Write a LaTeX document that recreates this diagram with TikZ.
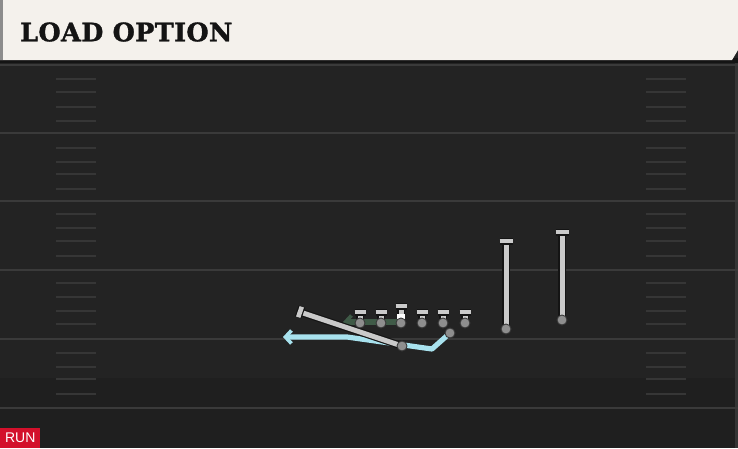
\documentclass[tikz,border=0pt]{standalone}
\usepackage{fontspec}
\setmainfont{DejaVu Serif}
\newfontfamily\titlefont[FakeBold=1.4, LetterSpace=1.5]{DejaVu Serif Bold}
\newfontfamily\runfont{Liberation Sans}
\usetikzlibrary{arrows.meta,calc}
\definecolor{field}{HTML}{232323}
\definecolor{fieldlow}{HTML}{1F1F1F}
\definecolor{cream}{HTML}{F4F1EC}
\definecolor{yard}{HTML}{3A3A3A}
\definecolor{hash}{HTML}{363636}
\definecolor{routegray}{HTML}{CACACA}
\definecolor{dotgray}{HTML}{8E8E8E}
\definecolor{outline}{HTML}{141414}
\definecolor{runblue}{HTML}{A8E2EE}
\definecolor{blockgreen}{HTML}{3F5A47}
\definecolor{runred}{HTML}{D3102B}
\tikzset{
  route/.style={draw=outline, line width=1.2pt, double=routegray, double distance=5pt},
  tbar/.style={draw=outline, line width=1.2pt, double=routegray, double distance=4.6pt},
  player/.style={circle, fill=dotgray, draw=outline!70!dotgray, line width=0.9pt, minimum size=10pt, inner sep=0pt},
  blueroute/.style={draw=runblue, line width=5.2pt, line join=round, -{Straight Barb[length=6pt,width=13pt,line width=3.6pt]}},
  greenroute/.style={draw=blockgreen, line width=5.2pt, -{Straight Barb[length=6pt,width=13pt,line width=3.6pt]}},
  yardline/.style={draw=yard, line width=1.6pt},
  hashmark/.style={draw=hash, line width=1.6pt},
}
\begin{document}
\begin{tikzpicture}[x=1pt,y=-1pt]
\useasboundingbox (0,0) rectangle (738,448);
% field
\fill[field] (0,0) rectangle (738,448);
\fill[fieldlow] (0,378) rectangle (738,448);
\fill[field!92!white] (735,60) rectangle (738,448);
% yard lines
\foreach \yy in {65,133,201,270,339,408} \draw[yardline] (0,\yy) -- (738,\yy);
% hash marks
\foreach \yy in {79,92,107,121,148,162,174,189,214,228,241,256,283,297,311,324,353,367,379,394} {
  \draw[hashmark] (56,\yy) -- (96,\yy);
  \draw[hashmark] (646,\yy) -- (686,\yy);
}
% header
\fill[outline] (0,58) rectangle (738,63);
\fill[cream] (0,0) -- (738,0) -- (738,50) -- (732,60) -- (0,60) -- cycle;
\fill[black!45] (0,0) rectangle (3,60);
\node[anchor=west, inner sep=0pt, text=outline, font=\titlefont\fontsize{25.5}{25.5}\selectfont] (title) at (20,32) {LOAD OPTION};
% RUN tag
\node[anchor=south west, fill=runred, text=white, inner sep=0pt, minimum width=40pt, minimum height=20pt, font=\runfont\fontsize{14}{14}\selectfont] (run) at (0,448) {RUN};

% coordinates
\coordinate (c) at (401,322);
\coordinate (greenend) at (343,322);
\coordinate (qb) at (402,346);
\coordinate (back) at (450,333);
\coordinate (b1) at (432,349);
\coordinate (b2) at (347,337);
\coordinate (blueend) at (283,337);
\coordinate (pitchend) at (300,312);
\coordinate (pa) at (301.8,306.8);
\coordinate (pb) at (298.2,317.2);

% block arrow
\draw[greenroute] (c) -- (greenend);
% run path
\draw[blueroute] (back) -- (b1) -- (b2) -- (blueend);
% pitch/ride path
\draw[route] (qb) -- (pitchend);
\draw[tbar] (pa) -- (pb);

% linemen
\foreach \n/\xx/\tp in {l1/360/312, l2/381/312, l3/401/306, l4/422/312, l5/443/312, l6/465/312} {
  \coordinate (\n) at (\xx,323);
  \coordinate (\n t) at (\xx,\tp);
  \draw[route] (\n) -- (\n t);
  \draw[tbar] ($(\n t)+(-5.5,0)$) -- ($(\n t)+(5.5,0)$);
}
\fill[white] (397,314) rectangle (405,323);
% receivers
\coordinate (w1) at (506,329);
\coordinate (w1t) at (506,241);
\coordinate (w2) at (562,320);
\coordinate (w2t) at (562,232);
\draw[route] (w1) -- (w1t);
\draw[tbar] ($(w1t)+(-6.5,0)$) -- ($(w1t)+(6.5,0)$);
\draw[route] (w2) -- (w2t);
\draw[tbar] ($(w2t)+(-6.5,0)$) -- ($(w2t)+(6.5,0)$);

% player dots
\foreach \n in {l1,l2,l3,l4,l5,l6,qb,back,w1,w2} \node[player] (p\n) at (\n) {};
\end{tikzpicture}
\end{document}
